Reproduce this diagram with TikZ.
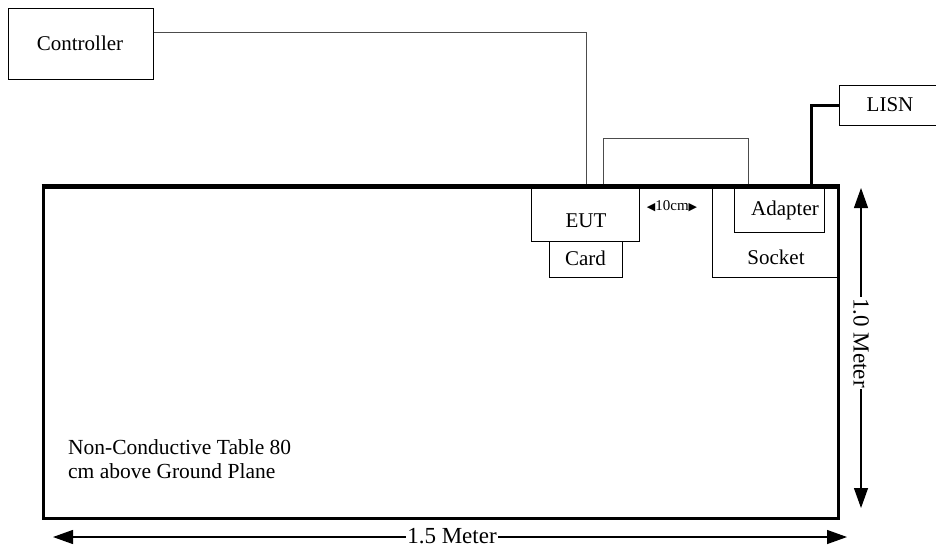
\documentclass[tikz,border=0pt]{standalone}
\usepackage{fontspec}
\setmainfont{Liberation Serif}
\newfontfamily\symfont{DejaVu Sans}
\usetikzlibrary{arrows.meta}
\begin{document}
\begin{tikzpicture}[x=1pt,y=-1pt,
  box/.style={draw=black,line width=1pt,rectangle,inner sep=0pt},
  wire/.style={draw=black!70,line width=1pt},
  thickwire/.style={draw=black,line width=3pt},
  dimarrow/.style={draw=black,line width=1.2pt,{Triangle[length=20pt,width=14pt]}-{Triangle[length=20pt,width=14pt]}},
  dimtext/.style={fill=white,inner sep=1pt,font=\fontsize{23}{26}\selectfont},
  lbl/.style={font=\fontsize{21}{24}\selectfont,inner sep=0pt}]
\useasboundingbox (0,0) rectangle (936,550);
\begin{scope}
\clip (0,0) rectangle (936,550);
% table
\node[draw=black,line width=3pt,rectangle,inner sep=0pt,minimum width=795pt,minimum height=331pt] (table) at (440.5,352.5) {};
\node[lbl,align=left,anchor=north west,font=\fontsize{21.5}{24.5}\selectfont] (tabletext) at (68,439) {Non-Conductive Table 80\\cm above Ground Plane};
% boxes
\node[box,minimum width=145pt,minimum height=71pt] (ctrl) at (80.5,43.5) {};
\node[lbl] (ctrltext) at (80,43) {Controller};
\node[box,minimum width=108pt,minimum height=54pt] (eut) at (585,214) {};
\node[lbl] (euttext) at (586,221) {EUT};
\node[box,minimum width=73pt,minimum height=36pt] (card) at (585.5,259) {};
\node[lbl] (cardtext) at (585.5,258) {Card};
\node[box,minimum width=125pt,minimum height=90pt] (socket) at (774.5,232) {};
\node[lbl] (sockettext) at (776,257) {Socket};
\node[box,minimum width=90pt,minimum height=45pt] (adapter) at (779,209.5) {};
\node[lbl] (adaptertext) at (785,210) {Adapter};
\node[box,minimum width=110pt,minimum height=40pt] (lisn) at (894,105) {};
\node[lbl] (lisntext) at (890,105) {LISN};
% wires
\coordinate (c1) at (586,32);
\coordinate (e1) at (586,187);
\draw[wire] (ctrl.east |- c1) -| (e1);
\coordinate (l1) at (603,187);
\coordinate (l2) at (748,187);
\draw[wire] (l1) -- (603,138) -- (748,138) -- (l2);
\coordinate (a1) at (811,187);
\draw[thickwire] (a1) |- (lisn.west);
% redraw table top edge
\draw[line width=3pt] (table.north west) -- (table.north east);
% 10cm
\node[inner sep=0pt,font=\fontsize{15}{17}\selectfont] (tencm) at (672,206) {{\symfont\fontsize{11}{12}\selectfont ◀}10cm{\symfont\fontsize{11}{12}\selectfont ▶}};
% dimensions
\coordinate (v1) at (861,188);
\coordinate (v2) at (861,508);
\draw[dimarrow] (v1) -- (v2);
\node[dimtext,rotate=-90] (vtext) at (861,343) {1.0 Meter};
\coordinate (h1) at (53,537);
\coordinate (h2) at (847,537);
\draw[dimarrow] (h1) -- (h2);
\node[dimtext] (htext) at (452,536) {1.5 Meter};
\end{scope}
\end{tikzpicture}
\end{document}
